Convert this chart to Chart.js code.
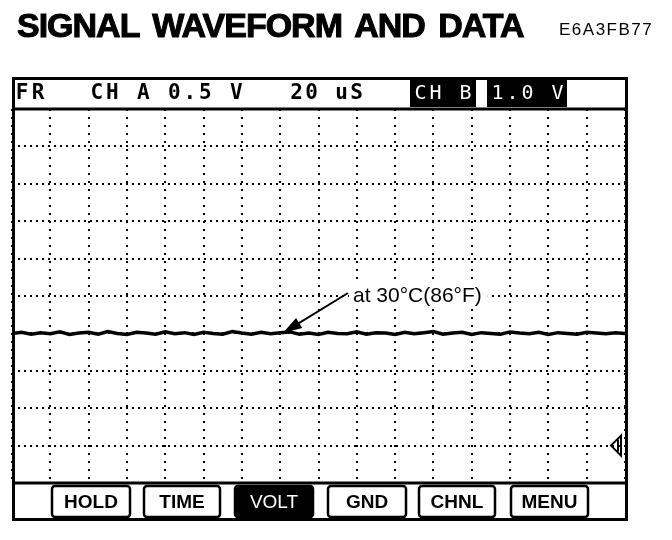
<!DOCTYPE html>
<html lang="en">
<head>
<meta charset="UTF-8">
<title>Signal Waveform and Data</title>
<script src="https://cdn.jsdelivr.net/npm/chart.js"></script>
<style>
    html, body { margin: 0; padding: 0; background: #fff; }
    .wrap { position: relative; width: 672px; height: 540px; overflow: hidden; }
    #scope { position: absolute; left: 0; top: 0; }
    #title {
        position: absolute; left: 17px; top: 8px; margin: 0;
        font: bold 34px/34px "Liberation Sans", Arial, sans-serif;
        letter-spacing: -1px; word-spacing: 5px; -webkit-text-stroke: 1px #000; color: #000;
        white-space: nowrap;
    }
    #code {
        position: absolute; left: 559px; top: 21px;
        font: 17px/18px "Liberation Sans", Arial, sans-serif;
        letter-spacing: 1.5px; color: #000;
    }
</style>
</head>
<body>
<div class="wrap">
    <canvas id="scope" width="672" height="540"></canvas>
    <h1 id="title">SIGNAL WAVEFORM AND DATA</h1>
    <div id="code">E6A3FB77</div>
</div>

<script>
    // screen grid: 16 time divisions x 10 volt divisions
    const timeDivs = 16;
    const voltDivs = 10;

    // channel A trace (in divisions)
    const signalTime = [0, 0.25, 0.5, 0.75, 1, 1.25, 1.5, 1.75, 2, 2.25, 2.5, 2.75, 3, 3.25, 3.5, 3.75,
        4, 4.25, 4.5, 4.75, 5, 5.25, 5.5, 5.75, 6, 6.25, 6.5, 6.75, 7, 7.25, 7.5, 7.75,
        8, 8.25, 8.5, 8.75, 9, 9.25, 9.5, 9.75, 10, 10.25, 10.5, 10.75, 11, 11.25, 11.5, 11.75,
        12, 12.25, 12.5, 12.75, 13, 13.25, 13.5, 13.75, 14, 14.25, 14.5, 14.75, 15, 15.25, 15.5, 15.75, 16];
    const signalLevel = [4.00, 4.03, 3.98, 4.02, 3.99, 4.04, 3.97, 4.01, 4.03, 3.98,
        4.05, 4.00, 3.97, 4.03, 4.01, 3.98, 4.04, 3.99, 4.02, 3.97,
        4.03, 4.00, 3.98, 4.05, 4.01, 3.98, 4.03, 3.99, 4.02, 4.04,
        3.98, 4.01, 3.97, 4.03, 4.00, 3.99, 4.04, 3.98, 4.02, 4.01,
        3.97, 4.03, 3.99, 4.02, 4.05, 3.98, 4.01, 4.03, 3.97, 4.02,
        4.00, 3.98, 4.04, 4.01, 3.99, 4.03, 3.97, 4.02, 4.00, 3.98,
        4.03, 4.01, 3.99, 4.02, 4.00];

    // status line and soft keys
    const statusLabels = ['FR', 'CH A 0.5 V', '20 uS'];
    const chBLabels = ['CH B', '1.0 V'];
    const buttonLabels = ['HOLD', 'TIME', 'VOLT', 'GND', 'CHNL', 'MENU'];
    const activeButton = 'VOLT';

    // annotation (in divisions)
    const noteText = 'at 30°C(86°F)';
    const noteAt = [8.9, 4.84];
    const arrowFrom = [8.77, 5.08];
    const arrowTo = [7.07, 4.01];
    const chBRefLevel = 1;

    function monoText(ctx, text, x, base, pitch) {
        for (let i = 0; i < text.length; i++) {
            ctx.fillText(text[i], x + pitch * i + pitch / 2, base);
        }
    }

    function roundBox(ctx, x, y, w, h, r) {
        ctx.beginPath();
        ctx.moveTo(x + r, y);
        ctx.arcTo(x + w, y, x + w, y + h, r);
        ctx.arcTo(x + w, y + h, x, y + h, r);
        ctx.arcTo(x, y + h, x, y, r);
        ctx.arcTo(x, y, x + w, y, r);
        ctx.closePath();
    }

    const scopePlugin = {
        id: 'scope',
        afterDraw(chart) {
            const { ctx, chartArea: a, scales } = chart;
            const sx = scales.x, sy = scales.y;
            ctx.save();

            // note with white backing over the grid
            ctx.font = '21px "Liberation Sans", Arial, sans-serif';
            ctx.textAlign = 'left';
            ctx.textBaseline = 'alphabetic';
            const nx = sx.getPixelForValue(noteAt[0]);
            const ny = sy.getPixelForValue(noteAt[1]);
            const nw = ctx.measureText(noteText).width;
            ctx.fillStyle = '#fff';
            ctx.fillRect(nx - 4, ny - 18, nw + 10, 24);
            ctx.fillStyle = '#000';
            ctx.fillText(noteText, nx, ny);

            // arrow
            const x1 = sx.getPixelForValue(arrowFrom[0]), y1 = sy.getPixelForValue(arrowFrom[1]);
            const x2 = sx.getPixelForValue(arrowTo[0]), y2 = sy.getPixelForValue(arrowTo[1]);
            const ang = Math.atan2(y2 - y1, x2 - x1);
            ctx.strokeStyle = '#000';
            ctx.lineWidth = 2;
            ctx.beginPath();
            ctx.moveTo(x1, y1);
            ctx.lineTo(x2 - 14 * Math.cos(ang), y2 - 14 * Math.sin(ang));
            ctx.stroke();
            ctx.beginPath();
            ctx.moveTo(x2, y2);
            ctx.lineTo(x2 - 20 * Math.cos(ang - 0.3), y2 - 20 * Math.sin(ang - 0.3));
            ctx.lineTo(x2 - 20 * Math.cos(ang + 0.3), y2 - 20 * Math.sin(ang + 0.3));
            ctx.closePath();
            ctx.fill();

            // channel B reference marker
            const my = sy.getPixelForValue(chBRefLevel);
            ctx.lineWidth = 2;
            ctx.beginPath();
            ctx.moveTo(a.right - 4, my - 10);
            ctx.lineTo(a.right - 14, my);
            ctx.lineTo(a.right - 4, my + 10);
            ctx.closePath();
            ctx.stroke();
            ctx.beginPath();
            ctx.moveTo(a.right - 7, my - 6);
            ctx.lineTo(a.right - 7, my + 6);
            ctx.stroke();

            // frame
            const top = 78.5, bottom = 519.5;
            ctx.lineWidth = 3;
            ctx.strokeRect(a.left + 1.5, top, a.right - a.left, bottom - top);
            ctx.beginPath();
            ctx.moveTo(a.left, a.top);
            ctx.lineTo(a.right + 3, a.top);
            ctx.moveTo(a.left, a.bottom);
            ctx.lineTo(a.right + 3, a.bottom);
            ctx.stroke();

            // status line
            ctx.textAlign = 'center';
            ctx.font = 'bold 21px "DejaVu Sans Mono", monospace';
            monoText(ctx, statusLabels[0], 14, 99, 16);
            monoText(ctx, statusLabels[1], 89, 99, 15.5);
            monoText(ctx, statusLabels[2], 289, 99, 15);

            ctx.fillRect(410, 80, 66, 27);
            ctx.fillRect(487, 80, 80, 27);
            ctx.fillStyle = '#fff';
            ctx.font = '20px "DejaVu Sans Mono", monospace';
            monoText(ctx, chBLabels[0], 413, 99, 15);
            monoText(ctx, chBLabels[1], 490, 99, 15);

            // soft keys
            const keyX = [52, 144, 235, 328, 419, 511];
            const keyW = [78, 76, 78, 78, 76, 77];
            buttonLabels.forEach((label, i) => {
                const on = label === activeButton;
                roundBox(ctx, keyX[i], 486, keyW[i], 31, 3);
                ctx.lineWidth = 2.5;
                ctx.strokeStyle = '#000';
                ctx.fillStyle = on ? '#000' : '#fff';
                ctx.fill();
                ctx.stroke();
                ctx.fillStyle = on ? '#fff' : '#000';
                ctx.font = on ? '19px "Liberation Sans", Arial, sans-serif'
                              : 'bold 19px "Liberation Sans", Arial, sans-serif';
                ctx.fillText(label, keyX[i] + keyW[i] / 2, 508);
            });

            ctx.restore();
        }
    };

    new Chart(document.getElementById('scope'), {
        type: 'line',
        data: {
            datasets: [{
                label: 'CH A',
                data: signalTime.map((t, i) => ({ x: t, y: signalLevel[i] })),
                borderColor: '#000',
                borderWidth: 3.5,
                pointRadius: 0,
                tension: 0,
                fill: false
            }]
        },
        options: {
            responsive: false,
            animation: false,
            layout: { padding: { left: 12, right: 47, top: 109, bottom: 57 } },
            plugins: { legend: { display: false }, tooltip: { enabled: false } },
            scales: {
                x: {
                    type: 'linear', min: 0, max: timeDivs,
                    ticks: { display: false, stepSize: 1 },
                    grid: { color: '#000', lineWidth: 2, drawTicks: false },
                    border: { display: false, dash: [2, 6] }
                },
                y: {
                    type: 'linear', min: 0, max: voltDivs,
                    ticks: { display: false, stepSize: 1 },
                    grid: { color: '#000', lineWidth: 2, drawTicks: false },
                    border: { display: false, dash: [2, 4] }
                }
            }
        },
        plugins: [scopePlugin]
    });
</script>
</body>
</html>
